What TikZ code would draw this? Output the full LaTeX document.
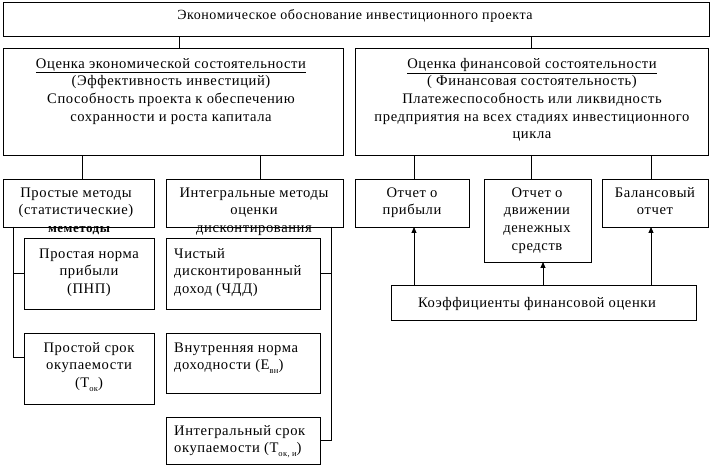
\documentclass[tikz,border=0pt]{standalone}
\usepackage{fontspec}
\setmainfont{Liberation Serif}[LetterSpace=4]
\usetikzlibrary{arrows.meta}
\newcommand\tp{\rule{0pt}{11pt}}
\newcommand\lowsub[1]{\raisebox{-3.5pt}{\fontsize{8.5}{8.5}\selectfont #1}}
\begin{document}
\begin{tikzpicture}[x=1pt,y=-1pt,
  box/.style={draw, line width=0.9pt, anchor=north west, inner sep=0pt, outer sep=0pt},
  txt/.style={anchor=north, inner sep=0pt, align=center, font=\fontsize{14.6}{17.7}\selectfont},
  ltxt/.style={anchor=north west, inner sep=0pt, align=left, font=\fontsize{14.6}{17.7}\selectfont},
  conn/.style={line width=0.9pt},
  arr/.style={line width=0.9pt, -{Triangle[width=5pt,length=6pt]}}]
\useasboundingbox (0,0) rectangle (710,465);
% boxes
\node[box, minimum width=706, minimum height=34] (top) at (3,2) {};
\node[box, minimum width=340, minimum height=107] (econ) at (3,48) {};
\node[box, minimum width=353, minimum height=107] (fin) at (355,48) {};
\node[box, minimum width=151, minimum height=48] (prost) at (3,179) {};
\node[box, minimum width=177, minimum height=48] (integ) at (166,179) {};
\node[box, minimum width=114, minimum height=48] (otp) at (355,179) {};
\node[box, minimum width=107, minimum height=83] (odd) at (484,179) {};
\node[box, minimum width=106, minimum height=48] (bal) at (602,179) {};
\node[box, minimum width=305, minimum height=35] (koef) at (391,285) {};
\node[box, minimum width=130, minimum height=71] (pnp) at (24,238) {};
\node[box, minimum width=130, minimum height=71] (psr) at (24,333) {};
\node[box, minimum width=154, minimum height=71] (chdd) at (166,238) {};
\node[box, minimum width=154, minimum height=60] (vnd) at (166,333) {};
\node[box, minimum width=154, minimum height=47] (isr) at (166,417) {};
% texts
\node[txt, font=\fontsize{14}{17.7}\selectfont] (topT) at (355,8.5) {\tp Экономическое обоснование инвестиционного проекта};
\node[txt] (econT) at (171,57) {\tp\underline{Оценка экономической состоятельности}\\(Эффективность инвестиций)\\Способность проекта к обеспечению\\сохранности и роста капитала};
\node[txt] (finT) at (532,57) {\tp\underline{Оценка финансовой состоятельности}\\( Финансовая состоятельность)\\Платежеспособность или ликвидность\\предприятия на всех стадиях инвестиционного\\цикла};
\node[txt] (prostT) at (76,186) {\tp Простые методы\\(статистические)};
\node[anchor=base, inner sep=0pt, font=\fontsize{13}{13}\bfseries\selectfont] (memT) at (79,233) {меметоды};
\node[txt] (integT) at (254,186) {\tp Интегральные методы\\оценки\\дисконтирования};
\node[txt] (otpT) at (412,186) {\tp Отчет о\\прибыли};
\node[txt] (oddT) at (537,186) {\tp Отчет о\\движении\\денежных\\средств};
\node[txt] (balT) at (655,186) {\tp Балансовый\\отчет};
\node[txt] (koefT) at (537,296) {\tp Коэффициенты финансовой оценки};
\node[txt] (pnpT) at (89,247) {\tp Простая норма\\прибыли\\(ПНП)};
\node[ltxt] (chddT) at (174,247) {\tp Чистый\\дисконтированный\\доход (ЧДД)};
\node[txt] (psrT) at (89,341) {\tp Простой срок\\окупаемости\\(Т\lowsub{ок})};
\node[ltxt] (vndT) at (174,341) {\tp Внутренняя норма\\доходности (Е\lowsub{вн})};
\node[ltxt] (isrT) at (174,424) {\tp Интегральный срок\\окупаемости (Т\lowsub{ок, и})};
% connectors
\draw[conn] ([xshift=6pt]econ.north) -- ([xshift=6pt]econ.north |- top.south);
\draw[conn] (fin.north) -- (fin.north |- top.south);
\draw[conn] ([xshift=3.5pt]prost.north) -- ([xshift=3.5pt]prost.north |- econ.south);
\draw[conn] ([xshift=5.5pt]integ.north) -- ([xshift=5.5pt]integ.north |- econ.south);
\draw[conn] ([xshift=2pt]otp.north) -- ([xshift=2pt]otp.north |- fin.south);
\draw[conn] (fin.south) -- (fin.south |- odd.north);
\draw[conn] ([xshift=-4pt]bal.north) -- ([xshift=-4pt]bal.north |- fin.south);
\coordinate (lt) at ([xshift=10pt]prost.south west);
\draw[conn] (lt) |- (pnp.west);
\draw[conn] (lt) |- ([yshift=11.5pt]psr.west);
\coordinate (rt) at ([xshift=-12pt]integ.south east);
\draw[conn] (rt) |- (chdd.east);
\draw[conn] (rt) |- (isr.east);
\draw[arr] ([xshift=2pt]otp.south |- koef.north) -- ([xshift=2pt]otp.south);
\draw[arr] ([xshift=5.5pt]odd.south |- koef.north) -- ([xshift=5.5pt]odd.south);
\draw[arr] ([xshift=-4pt]bal.south |- koef.north) -- ([xshift=-4pt]bal.south);
\end{tikzpicture}
\end{document}
